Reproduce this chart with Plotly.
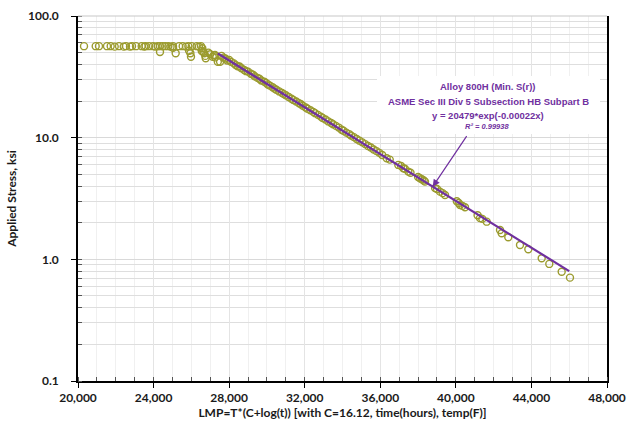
import plotly.graph_objects as go

# ---- data ----
lmp = [20318, 20937, 21111, 21535, 21730, 21942, 22170, 22419, 22540, 22752, 22858, 23070,
       23370, 23510, 23580, 23760, 23970, 24090, 24220, 24340, 24340, 24480, 24620, 24780,
       24900, 25030, 25030, 25170, 25350, 25540, 25720, 25840, 25880, 25950, 25980, 26020,
       26280, 26400, 26510, 26550, 26580, 26630, 26680, 26760, 26740, 26900, 27000, 27130,
       27200, 27250, 27260, 27400, 27520,
       27600, 27700, 27800, 27900, 28000, 28100, 28250, 28350, 28450, 28550, 28650, 28800,
       28900, 29000, 29150, 29250, 29350, 29500, 29600, 29700, 29850, 29950, 30050, 30150,
       30300, 30400, 30500, 30650, 30800, 30900, 31000, 31150, 31300, 31400, 31550, 31700,
       31800, 31900, 32050, 32150, 32300, 32450, 32550, 32700, 32850, 32950, 33100, 33250,
       33400, 33500, 33650, 33800, 33950, 34050, 34200, 34350, 34450, 34600, 34750, 34900,
       35050, 35200, 35350, 35500, 35650, 35800, 35950, 36100, 36340, 36500, 36954, 37100,
       37220, 37300, 37483, 37600, 38000, 38100, 38200, 38300, 38366, 38900, 39000, 39160,
       39300, 39425, 40050, 40150, 40220, 40350, 40484, 41150, 41278, 41400, 41632, 42337,
       42425, 42775, 43395, 43835, 44543, 44946, 45602, 46041]
stress = [56.5, 56.5, 56.5, 56.5, 56.5, 56.0, 56.5, 56.0, 56.5, 56.0, 56.5, 56.5,
          56.5, 56.0, 56.5, 56.5, 56.5, 56.0, 56.5, 56.5, 50.6, 56.5, 56.5, 56.5,
          56.0, 56.5, 54.9, 49.4, 56.5, 56.5, 56.0, 56.5, 51.8, 49.4, 46.3, 56.5,
          56.5, 56.0, 56.5, 51.5, 54.3, 50.8, 49.4, 44.9, 47.0, 50.0, 48.5, 46.3,
          47.5, 47.8, 45.7, 42.1, 42.1,
          47.0, 45.5, 44.8, 43.0, 43.6, 42.0, 40.8, 39.5, 38.6, 38.5, 37.2, 36.0,
          35.2, 34.9, 33.5, 33.0, 32.0, 31.0, 30.5, 29.5, 28.9, 28.2, 27.4, 26.8,
          26.0, 25.3, 24.8, 24.0, 23.3, 22.8, 22.3, 21.6, 20.9, 20.4, 19.8, 19.2,
          18.8, 18.3, 17.7, 17.3, 16.8, 16.3, 15.9, 15.4, 14.9, 14.5, 14.1, 13.6,
          13.2, 12.9, 12.5, 12.1, 11.6, 11.4, 11.0, 10.7, 10.4, 10.1, 9.75, 9.45,
          9.15, 8.85, 8.55, 8.3, 8.0, 7.75, 7.5, 7.2, 6.77, 6.6, 5.97, 5.85,
          5.61, 5.55, 5.26, 5.15, 4.75, 4.64, 4.55, 4.45, 4.35, 3.85, 3.78, 3.60,
          3.50, 3.38, 3.00, 2.90, 2.80, 2.75, 2.68, 2.30, 2.18, 2.15, 2.04, 1.74,
          1.64, 1.52, 1.31, 1.21, 1.02, 0.917, 0.79, 0.707]

trend_x = [27400, 46000]
trend_y = [49.2, 0.80]

x_ticks = [20000, 24000, 28000, 32000, 36000, 40000, 44000, 48000]
y_ticks = [0.1, 1, 10, 100]

PURPLE = "#7030a0"
OLIVE = "#9b9b2e"
FONT = "Lato"

fig = go.Figure()
fig.add_trace(go.Scatter(
    x=lmp, y=stress, mode="markers",
    marker=dict(symbol="circle-open", size=7, color=OLIVE, line=dict(width=1.4, color=OLIVE)),
    showlegend=False, hoverinfo="skip"))
fig.add_trace(go.Scatter(
    x=trend_x, y=trend_y, mode="lines",
    line=dict(color=PURPLE, width=2.2), showlegend=False, hoverinfo="skip"))

fig.update_layout(
    width=637, height=429,
    margin=dict(l=78, r=30, t=16, b=48),
    paper_bgcolor="white", plot_bgcolor="white",
    font=dict(family=FONT, color="#1a1a1a"),
)

fig.update_xaxes(
    range=[20000, 48000], tickvals=x_ticks, tickformat=",d", automargin=False,
    showline=True, linecolor="black", linewidth=1.6,
    ticks="outside", ticklen=5, tickcolor="black", tickwidth=1,
    showgrid=True, gridcolor="#e4e4e4", gridwidth=1,
    minor=dict(dtick=1000, ticks="inside", ticklen=4, tickcolor="#555555",
               showgrid=True, gridcolor="#f0f0f0", gridwidth=1),
    tickfont=dict(family=FONT, size=12, color="#1a1a1a", weight="bold"),
    title=dict(text="LMP=T*(C+log(t)) [with C=16.12, time(hours), temp(F)]",
               font=dict(family=FONT, size=12, color="#1a1a1a", weight="bold"), standoff=4),
    zeroline=False,
)

fig.update_yaxes(
    type="log", range=[-1, 2], tickvals=y_ticks, tickformat=".1f", automargin=False,
    showline=True, linecolor="black", linewidth=1.6, mirror=True,
    ticks="outside", ticklen=5, tickcolor="black", tickwidth=1,
    showgrid=True, gridcolor="#d9d9d9", gridwidth=1,
    minor=dict(dtick="D1", ticks="inside", ticklen=4, tickcolor="#555555",
               showgrid=True, gridcolor="#dedede", gridwidth=1),
    ticklabelstandoff=10,
    tickfont=dict(family=FONT, size=12, color="#1a1a1a", weight="bold"),
    title=dict(text="Applied Stress, ksi",
               font=dict(family=FONT, size=12, color="#1a1a1a", weight="bold"), standoff=9),
    zeroline=False,
)

# top border (light)
fig.add_shape(type="line", xref="paper", yref="paper", x0=0, x1=1, y0=1, y1=1,
              line=dict(color="#c8c8c8", width=1.2), layer="above")

# white box behind the equation text
fig.add_shape(type="rect", xref="paper", yref="paper",
              x0=(377 - 78) / 529, x1=(600 - 78) / 529,
              y0=(381 - 134) / 365, y1=(381 - 76) / 365,
              fillcolor="white", line=dict(width=0), layer="above")

ann_font = dict(family="Liberation Sans", size=9.5, color=PURPLE, weight="bold")
lines = [("Alloy 800H (Min. S(r))", 86.5),
         ("ASME Sec III Div 5 Subsection HB Subpart B", 101.5),
         ("y = 20479*exp(-0.00022x)", 115.5)]
for txt, py in lines:
    fig.add_annotation(text=txt, xref="paper", yref="paper",
                       x=(488 - 78) / 529, y=(381 - py) / 365,
                       xanchor="center", yanchor="middle", showarrow=False, font=ann_font)
fig.add_annotation(text="<i>R² = 0.99938</i>", xref="paper", yref="paper",
                   x=(487 - 78) / 529, y=(381 - 127) / 365,
                   xanchor="center", yanchor="middle", showarrow=False,
                   font=dict(family="Liberation Sans", size=7.5, color=PURPLE, weight="bold"))

# arrow pointing to the fit line
fig.add_annotation(x=38774, y=0.5974, xref="x", yref="y", text="",
                   showarrow=True, ax=35, ay=-52, arrowhead=2, arrowsize=1.2,
                   arrowwidth=1.2, arrowcolor=PURPLE)

fig.write_html("out.html")
